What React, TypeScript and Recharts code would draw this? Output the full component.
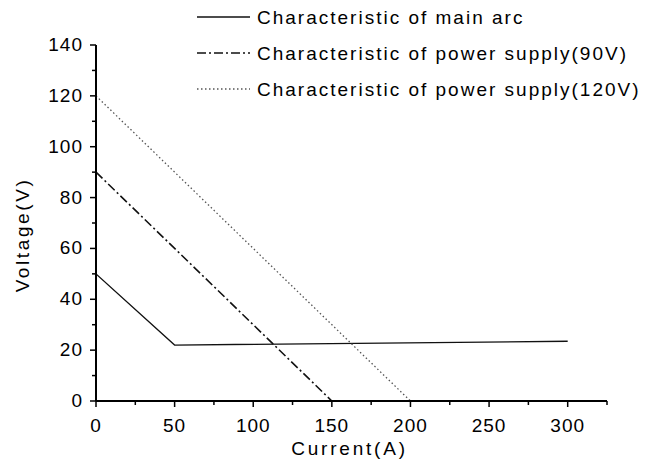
import { LineChart, Line, XAxis, YAxis, Legend } from 'recharts';

const arcCurrent = [0, 50, 300];
const arcVoltage = [50, 22, 23.5];
const supply90Current = [0, 150];
const supply90Voltage = [90, 0];
const supply120Current = [0, 200];
const supply120Voltage = [120, 0];

const xTicks = [0, 25, 50, 75, 100, 125, 150, 175, 200, 225, 250, 275, 300, 325];
const xMajor = [0, 50, 100, 150, 200, 250, 300];
const yTicks = [0, 10, 20, 30, 40, 50, 60, 70, 80, 90, 100, 110, 120, 130, 140];
const yMajor = [0, 20, 40, 60, 80, 100, 120, 140];

const seriesNames = [
  'Characteristic of main arc',
  'Characteristic of power supply(90V)',
  'Characteristic of power supply(120V)',
];

const FONT = '"Liberation Sans", Arial, sans-serif';

const toRows = (xs: number[], ys: number[]) => xs.map((c, i) => ({ current: c, voltage: ys[i] }));

const arcData = toRows(arcCurrent, arcVoltage);
const supply90Data = toRows(supply90Current, supply90Voltage);
const supply120Data = toRows(supply120Current, supply120Voltage);

const lineStyles = [
  { stroke: '#111', strokeWidth: 1.3, dash: undefined },
  { stroke: '#111', strokeWidth: 1.6, dash: '9 3 2 3' },
  { stroke: '#555', strokeWidth: 1.3, dash: '1.5 2.5' },
];

// eslint-disable-next-line @typescript-eslint/no-explicit-any
const XTick = (props: any) => {
  const { x, y, payload } = props;
  const major = xMajor.includes(payload.value);
  return (
    <g>
      <line x1={x} x2={x} y1={y} y2={y + (major ? 6 : 4)} stroke="#000" strokeWidth={1.5} />
      {major && (
        <text x={x} y={y + 31} textAnchor="middle" fontSize={19} letterSpacing={1} fill="#000" fontFamily={FONT}>
          {payload.value}
        </text>
      )}
    </g>
  );
};

// eslint-disable-next-line @typescript-eslint/no-explicit-any
const YTick = (props: any) => {
  const { x, y, payload } = props;
  const major = yMajor.includes(payload.value);
  return (
    <g>
      <line x1={x} x2={x - (major ? 6 : 4)} y1={y} y2={y} stroke="#000" strokeWidth={1.5} />
      {major && (
        <text x={x - 13} y={y + 6} textAnchor="end" fontSize={19} letterSpacing={1} fill="#000" fontFamily={FONT}>
          {payload.value}
        </text>
      )}
    </g>
  );
};

const renderLegend = () => (
  <svg width={655} height={110} style={{ display: 'block' }}>
    {seriesNames.map((name, i) => {
      const y = 17 + i * 36;
      const s = lineStyles[i];
      return (
        <g key={name}>
          <line x1={197} x2={250} y1={y} y2={y} stroke={s.stroke} strokeWidth={s.strokeWidth} strokeDasharray={s.dash} />
          <text x={257} y={y + 7} fontSize={19} letterSpacing={2} fill="#000" fontFamily={FONT}>
            {name}
          </text>
        </g>
      );
    })}
  </svg>
);

export default function App() {
  return (
    <div style={{ position: 'absolute', left: 0, top: 0, background: '#fff' }}>
      <LineChart width={655} height={466} margin={{ top: 45, right: 48, bottom: 0, left: 0 }}>
        <XAxis
          dataKey="current"
          type="number"
          domain={[0, 325]}
          ticks={xTicks}
          interval={0}
          height={65}
          tickSize={0}
          tickMargin={0}
          tick={<XTick />}
          axisLine={{ stroke: '#000', strokeWidth: 2 }}
          allowDataOverflow
          label={{
            value: 'Current(A)',
            position: 'insideBottom',
            offset: 11,
            dx: -2,
            style: { fontSize: 19, letterSpacing: 2.8, fill: '#000', fontFamily: FONT },
          }}
        />
        <YAxis
          dataKey="voltage"
          type="number"
          domain={[0, 140]}
          ticks={yTicks}
          interval={0}
          width={96}
          tickSize={0}
          tickMargin={0}
          tick={<YTick />}
          axisLine={{ stroke: '#000', strokeWidth: 2 }}
          allowDataOverflow
          label={{
            value: 'Voltage(V)',
            angle: -90,
            position: 'insideLeft',
            offset: 22,
            dy: 12,
            style: { textAnchor: 'middle', fontSize: 19, letterSpacing: 2.6, fill: '#000', fontFamily: FONT },
          }}
        />
        <Legend
          layout="horizontal"
          verticalAlign="middle"
          align="center"
          content={renderLegend}
          wrapperStyle={{ top: 0, left: 0, width: 655, height: 110 }}
        />
        {[arcData, supply90Data, supply120Data].map((d, i) => (
          <Line
            key={seriesNames[i]}
            data={d}
            dataKey="voltage"
            name={seriesNames[i]}
            type="linear"
            stroke={lineStyles[i].stroke}
            strokeWidth={lineStyles[i].strokeWidth}
            strokeDasharray={lineStyles[i].dash}
            dot={false}
            activeDot={false}
            isAnimationActive={false}
          />
        ))}
      </LineChart>
    </div>
  );
}
